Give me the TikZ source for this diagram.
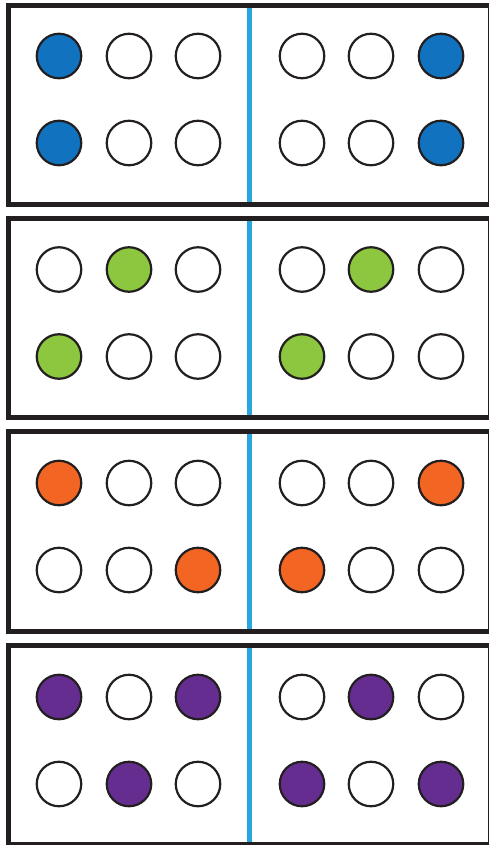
\documentclass[tikz,border=0pt]{standalone}
\usepackage{tikz}
\definecolor{ink}{HTML}{231F20}
\definecolor{divcyan}{HTML}{29A6DE}
\definecolor{dotblue}{HTML}{1172BF}
\definecolor{dotgreen}{HTML}{8DC63F}
\definecolor{dotorange}{HTML}{F26522}
\definecolor{dotpurple}{HTML}{662D91}
% one row of six dots: name prefix, y, fills
\newcommand{\dotrow}[3]{%
  \foreach \f [count=\c] in {#3} {
    \pgfmathsetmacro{\xpos}{{59,129,198,302,371,441}[\c-1]}
    \node[dot, fill=\f] (#1\c) at (\xpos,#2) {};
  }}

\begin{document}
\begin{tikzpicture}[x=1pt, y=-1pt, frame/.style={draw=ink, line width=5pt}, divider/.style={draw=divcyan, line width=4.5pt}, dot/.style={draw=ink, circle, line width=2.2pt, minimum size=44.5pt, inner sep=0pt}]
	\useasboundingbox (0,0) rectangle (489,845);
	\fill[white] (0,0) rectangle (489,845);
	\foreach \t/\b in {5.5/204, 218/417.5, 431.5/631, 645/844} {
		\draw[divider] (249.5,\t) -- (249.5,\b);
		\draw[frame] (8.5,\t) rectangle (490,\b);
	}
	% panel 1
	\dotrow{a}{56}{dotblue,white,white,white,white,dotblue}
	\dotrow{b}{143}{dotblue,white,white,white,white,dotblue}
	% panel 2
	\dotrow{c}{269.5}{white,dotgreen,white,white,dotgreen,white}
	\dotrow{d}{356.5}{dotgreen,white,white,dotgreen,white,white}
	% panel 3
	\dotrow{e}{483}{dotorange,white,white,white,white,dotorange}
	\dotrow{f}{570}{white,white,dotorange,dotorange,white,white}
	% panel 4
	\dotrow{g}{697}{dotpurple,white,dotpurple,white,dotpurple,white}
	\dotrow{h}{784}{white,dotpurple,white,dotpurple,white,dotpurple}
\end{tikzpicture}
\end{document}
